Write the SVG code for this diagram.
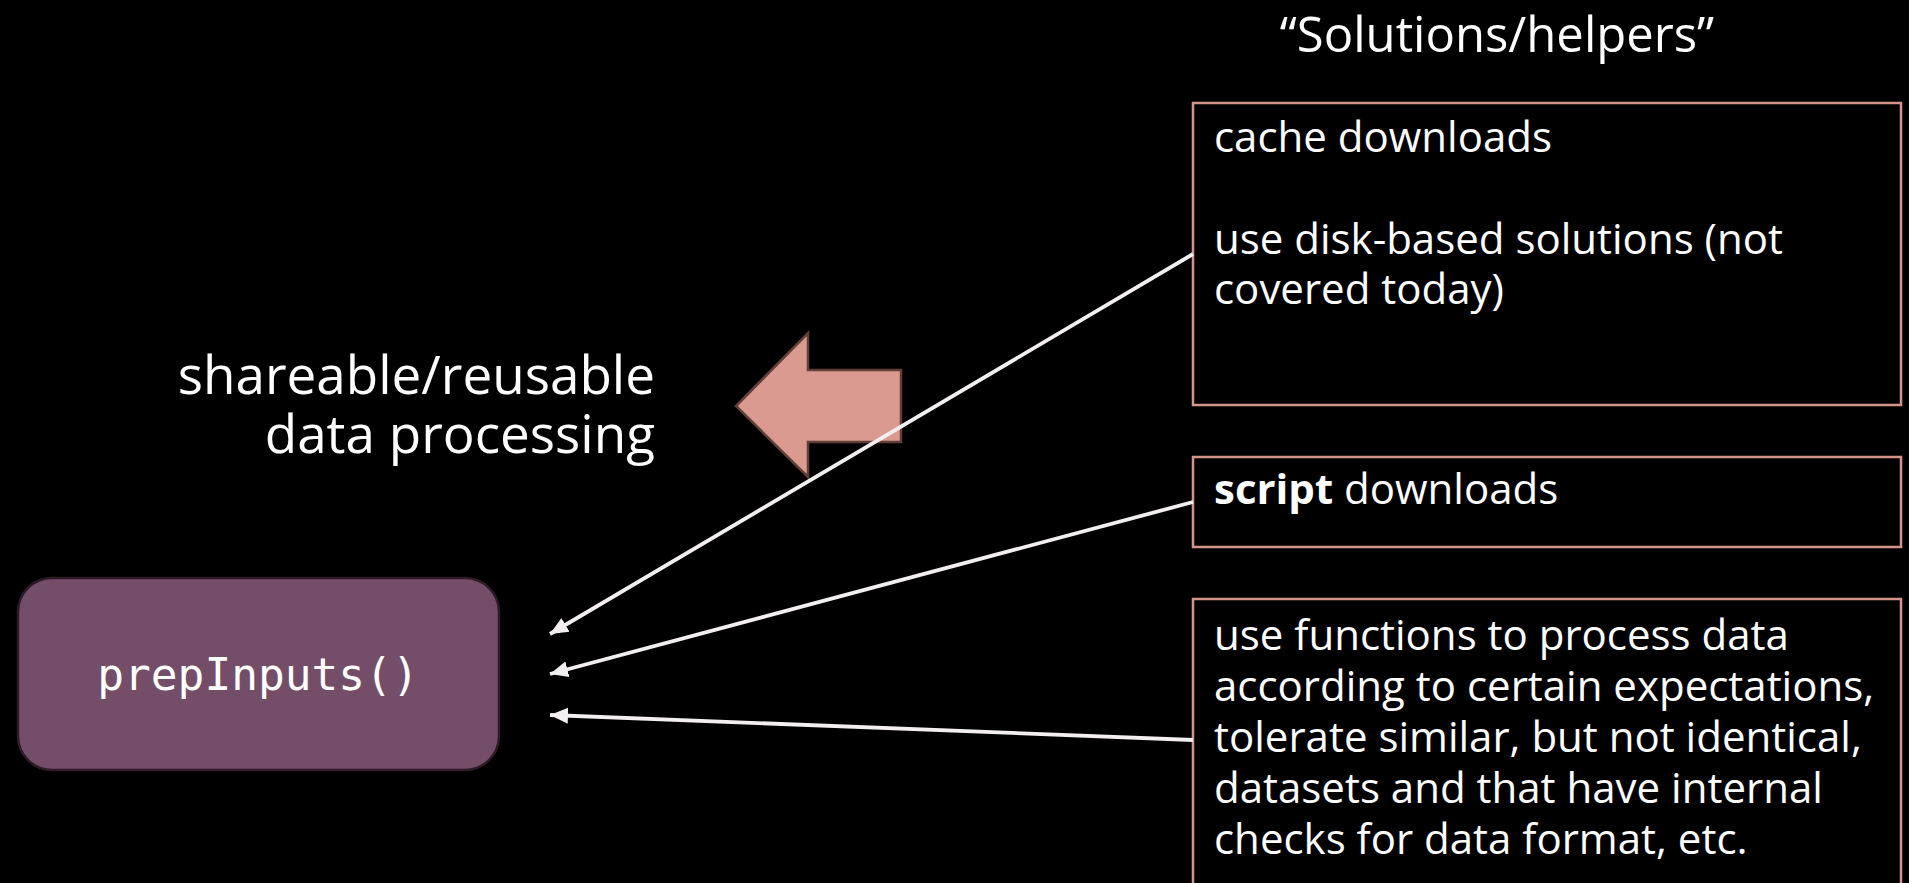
<svg xmlns="http://www.w3.org/2000/svg" width="1909" height="883" viewBox="0 0 1909 883">
<defs>
<style>
.t{font-family:"Open Sans","Noto Sans","DejaVu Sans",sans-serif;fill:#ffffff}
.bt{font-size:42px}
.box{fill:#000000;stroke:#d4948a;stroke-width:2.5}
.con{stroke:#f3eeef;stroke-width:3.8;fill:none}
</style>
<marker id="ah" markerUnits="userSpaceOnUse" markerWidth="20" markerHeight="20" viewBox="0 0 20 20" refX="18" refY="10" orient="auto">
<path d="M0,2 L18,10 L0,18 Z" fill="#f3eeef"/>
</marker>
</defs>
<rect x="0" y="0" width="1909" height="883" fill="#000000"/>

<g id="title">
<text class="t" x="1497" y="52" font-size="49" text-anchor="middle">“Solutions/helpers”</text>
</g>

<g id="label-shareable">
<text class="t" x="655" y="394" font-size="53" text-anchor="end">shareable/reusable</text>
<text class="t" x="655" y="453" font-size="53" text-anchor="end">data processing</text>
</g>

<g id="big-arrow">
<path d="M736,406 L808,333 L808,370 L901,370 L901,442 L808,442 L808,477 Z" fill="#da9a8f" stroke="#5f3f38" stroke-width="2.5" stroke-linejoin="miter"/>
</g>

<g id="box-cache">
<rect class="box" x="1193" y="103" width="708" height="302"/>
<text class="t bt" x="1214" y="152">cache downloads</text>
<text class="t bt" x="1214" y="254">use disk-based solutions (not</text>
<text class="t bt" x="1214" y="304">covered today)</text>
</g>

<g id="box-script">
<rect class="box" x="1193" y="457" width="708" height="90"/>
<text class="t bt" x="1214" y="504"><tspan font-weight="bold">script</tspan> downloads</text>
</g>

<g id="box-functions">
<rect class="box" x="1193" y="599" width="708" height="300"/>
<text class="t bt" x="1214" y="650">use functions to process data</text>
<text class="t bt" x="1214" y="701">according to certain expectations,</text>
<text class="t bt" x="1214" y="752">tolerate similar, but not identical,</text>
<text class="t bt" x="1214" y="803">datasets and that have internal</text>
<text class="t bt" x="1214" y="854">checks for data format, etc.</text>
</g>

<g id="node-prepInputs">
<rect x="18" y="578" width="481" height="192" rx="34" ry="34" fill="#744d68" stroke="#2e1a28" stroke-width="2.5"/>
<text x="258" y="690" font-size="44.5" text-anchor="middle" font-family="'DejaVu Sans Mono','Liberation Mono',monospace" fill="#ffffff">prepInputs()</text>
</g>

<g id="connectors">
<line class="con" x1="1193" y1="254" x2="550" y2="634" marker-end="url(#ah)"/>
<line class="con" x1="1193" y1="502" x2="550" y2="674" marker-end="url(#ah)"/>
<line class="con" x1="1193" y1="740" x2="550" y2="715" marker-end="url(#ah)"/>
</g>
</svg>
